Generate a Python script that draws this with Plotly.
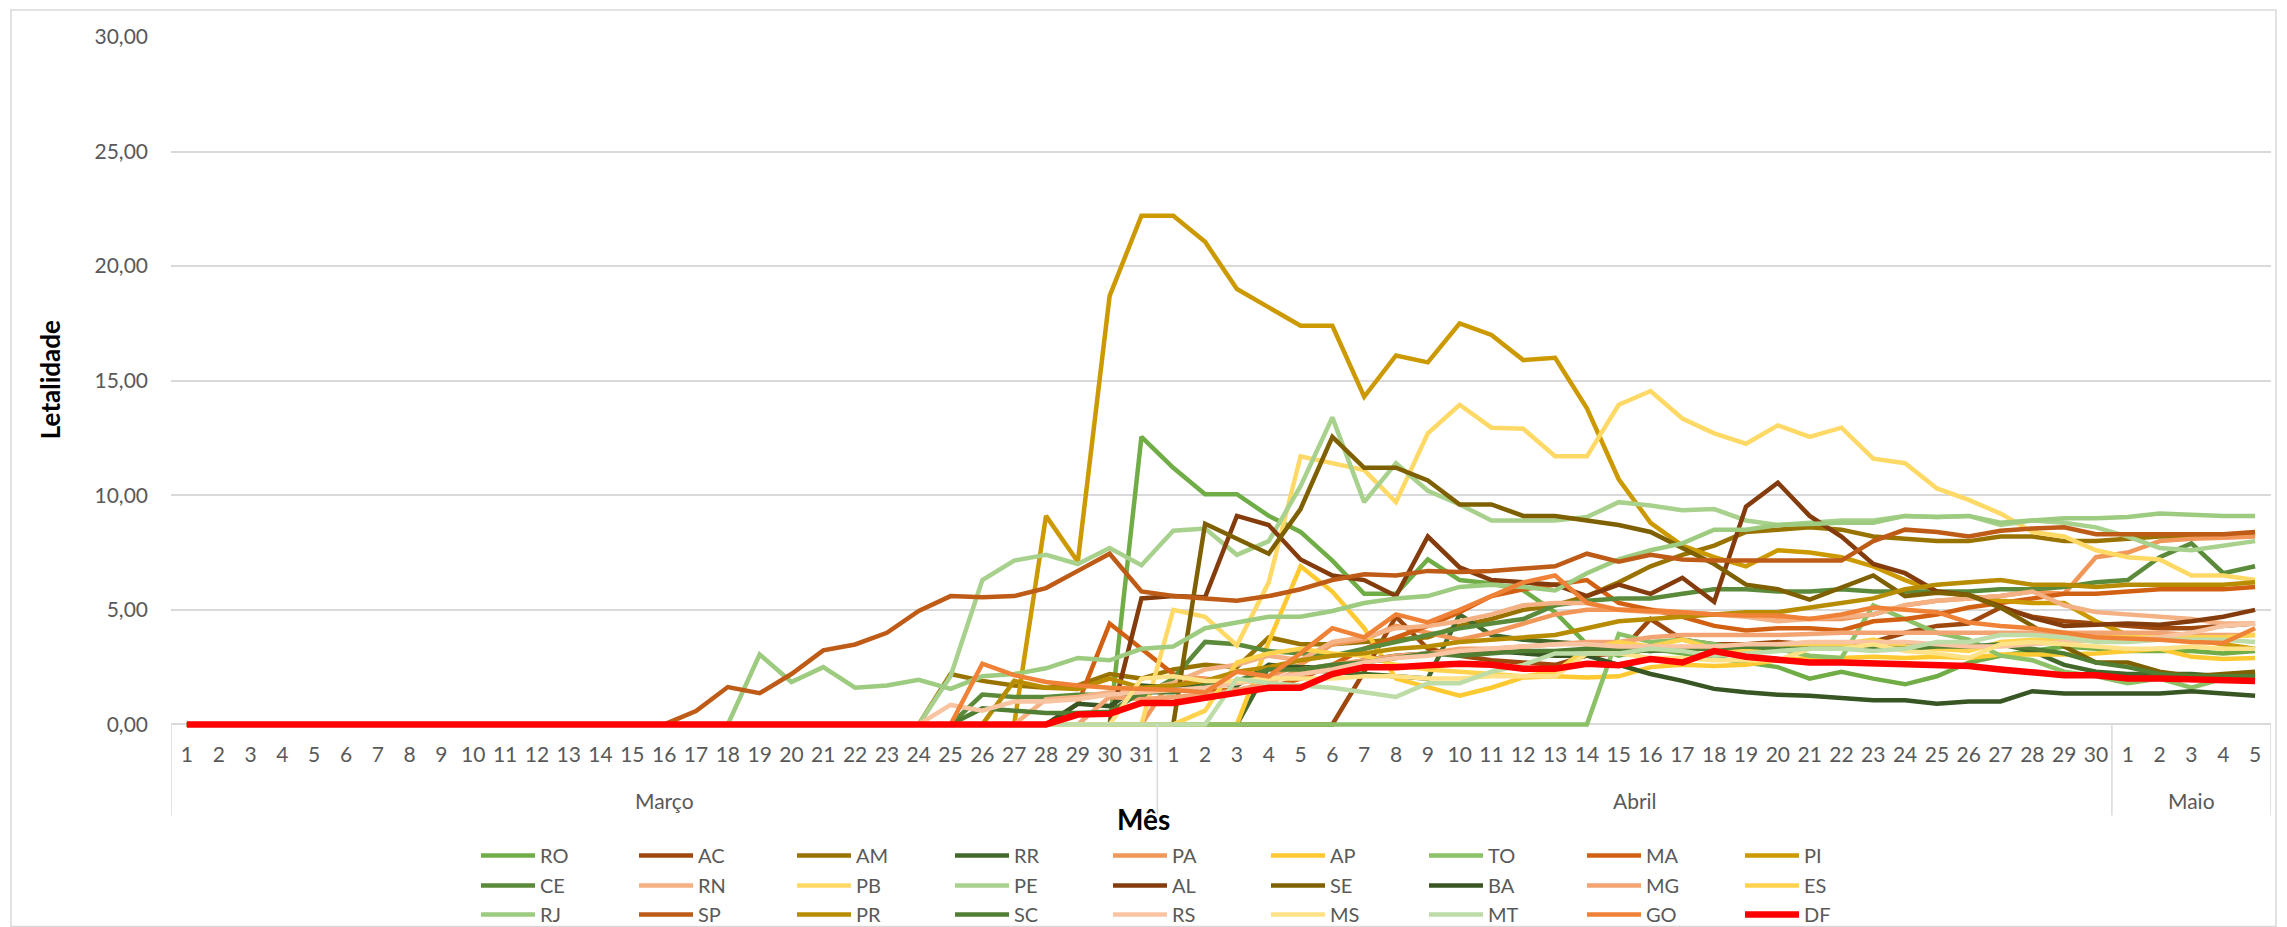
import plotly.graph_objects as go

# ---------------- categories ----------------
month_names = ["Março", "Abril", "Maio"]
month_days = [31, 30, 5]
cat_month, cat_day = [], []
for m, n in zip(month_names, month_days):
    for d in range(1, n + 1):
        cat_month.append(m)
        cat_day.append(str(d))
cat_key = [m + " " + d for m, d in zip(cat_month, cat_day)]

# ---------------- series values (Mar 1-31, Apr 1-30, May 1-5) ----------------
RO = [0, 0, 0, 0, 0, 0, 0, 0, 0, 0, 0, 0, 0, 0, 0, 0, 0, 0, 0, 0, 0, 0, 0, 0, 0, 0, 0, 0, 0, 0, 12.55,
      11.2, 10.05, 10.05, 9.1, 8.4, 7.15, 5.7, 5.7, 7.2, 6.3, 6.15, 5.85, 4.9, 3.5, 3.0, 3.3, 3.1, 2.9, 2.7, 2.5,
      2.0, 2.3, 2.0, 1.75, 2.1, 2.7, 3.0, 3.2, 3.4, 3.3,
      3.2, 3.2, 3.2, 3.1, 3.2]
AC = [0, 0, 0, 0, 0, 0, 0, 0, 0, 0, 0, 0, 0, 0, 0, 0, 0, 0, 0, 0, 0, 0, 0, 0, 0, 0, 0, 0, 0, 0, 0,
      0, 0, 0, 0, 0, 0, 2.3, 4.7, 3.3, 3.0, 2.8, 2.7, 2.6, 3.0, 3.1, 4.6, 3.7, 3.5, 3.5, 3.6,
      3.5, 3.3, 3.6, 4.0, 4.3, 4.4, 5.1, 4.7, 4.5, 4.4,
      4.3, 4.2, 4.2, 4.3, 4.4]
AM = [0, 0, 0, 0, 0, 0, 0, 0, 0, 0, 0, 0, 0, 0, 0, 0, 0, 0, 0, 0, 0, 0, 0, 0, 2.2, 1.9, 1.7, 1.6, 1.7, 2.2, 2.0,
      2.4, 2.6, 2.5, 3.8, 3.5, 3.5, 3.6, 3.7, 3.8, 4.3, 4.6, 5.0, 5.2, 5.6, 6.2, 6.9, 7.4, 7.8, 8.4, 8.5,
      8.6, 8.5, 8.2, 8.1, 8.0, 8.0, 8.2, 8.2, 8.0, 8.0,
      8.1, 8.2, 8.2, 8.2, 8.3]
RR = [0, 0, 0, 0, 0, 0, 0, 0, 0, 0, 0, 0, 0, 0, 0, 0, 0, 0, 0, 0, 0, 0, 0, 0, 0, 0, 0, 0, 0, 0, 0,
      0, 0, 0, 2.5, 2.4, 2.3, 2.2, 2.1, 2.0, 4.8, 3.9, 3.7, 3.6, 3.5, 3.3, 3.2, 3.3, 3.4, 3.4, 3.4,
      3.4, 3.4, 3.3, 3.4, 3.4, 3.3, 3.5, 3.2, 2.6, 2.3,
      2.2, 2.2, 2.2, 2.1, 2.1]
PA = [0, 0, 0, 0, 0, 0, 0, 0, 0, 0, 0, 0, 0, 0, 0, 0, 0, 0, 0, 0, 0, 0, 0, 0, 0, 0, 0, 0, 0, 0, 0,
      2.1, 2.0, 1.8, 2.1, 2.6, 3.5, 3.7, 4.3, 4.0, 3.7, 4.0, 4.4, 4.8, 5.0, 5.0, 5.0, 4.9, 4.8, 4.8, 4.7,
      4.6, 4.6, 4.8, 5.2, 5.4, 5.5, 5.6, 5.8, 5.7, 7.3,
      7.5, 8.0, 8.1, 8.15, 8.2]
AP = [0, 0, 0, 0, 0, 0, 0, 0, 0, 0, 0, 0, 0, 0, 0, 0, 0, 0, 0, 0, 0, 0, 0, 0, 0, 0, 0, 0, 0, 0, 0,
      0, 0, 0, 3.6, 6.9, 5.8, 4.2, 2.0, 1.6, 1.25, 1.6, 2.05, 2.1, 2.05, 2.1, 2.5, 2.6, 2.55, 2.6, 2.8,
      2.9, 2.9, 2.95, 2.9, 2.95, 2.9, 3.05, 3.05, 3.05, 3.1,
      3.2, 3.3, 2.95, 2.85, 2.9]
TO = [0, 0, 0, 0, 0, 0, 0, 0, 0, 0, 0, 0, 0, 0, 0, 0, 0, 0, 0, 0, 0, 0, 0, 0, 0, 0, 0, 0, 0, 0, 0,
      0, 0, 0, 0, 0, 0, 0, 0, 0, 0, 0, 0, 0, 0, 3.95, 3.6, 3.7, 3.5, 3.3, 3.3,
      3.0, 2.9, 5.2, 4.6, 4.0, 3.7, 3.0, 2.8, 2.3, 2.1,
      1.8, 2.0, 1.6, 2.0, 2.2]
MA = [0, 0, 0, 0, 0, 0, 0, 0, 0, 0, 0, 0, 0, 0, 0, 0, 0, 0, 0, 0, 0, 0, 0, 0, 0, 0, 0, 0, 0.9, 4.4, 3.3,
      2.2, 1.5, 1.5, 1.6, 2.0, 2.6, 3.3, 3.8, 4.3, 4.9, 5.6, 5.9, 6.1, 6.3, 5.3, 5.0, 4.7, 4.3, 4.1, 4.2,
      4.2, 4.1, 4.5, 4.6, 4.8, 5.1, 5.3, 5.5, 5.7, 5.7,
      5.8, 5.9, 5.9, 5.9, 6.0]
PI = [0, 0, 0, 0, 0, 0, 0, 0, 0, 0, 0, 0, 0, 0, 0, 0, 0, 0, 0, 0, 0, 0, 0, 0, 0, 0, 0, 9.1, 7.1, 18.7, 22.2,
      22.2, 21.06, 19.0, 18.2, 17.4, 17.4, 14.3, 16.1, 15.8, 17.5, 17.0, 15.9, 16.0, 13.8, 10.7, 8.8, 7.8, 7.3, 6.9, 7.6,
      7.5, 7.3, 6.9, 6.3, 5.8, 5.6, 5.4, 5.3, 5.3, 4.5,
      3.9, 3.8, 3.7, 3.5, 3.3]
CE = [0, 0, 0, 0, 0, 0, 0, 0, 0, 0, 0, 0, 0, 0, 0, 0, 0, 0, 0, 0, 0, 0, 0, 0, 0, 1.3, 1.2, 1.2, 1.3, 1.3, 1.2,
      2.0, 3.6, 3.5, 3.2, 3.1, 3.0, 3.3, 3.6, 3.9, 4.2, 4.4, 4.6, 5.2, 5.4, 5.5, 5.5, 5.7, 5.9, 5.9, 5.8,
      5.8, 5.9, 5.8, 5.8, 5.8, 5.8, 5.9, 5.9, 6.0, 6.2,
      6.3, 7.3, 7.9, 6.6, 6.9]
RN = [0, 0, 0, 0, 0, 0, 0, 0, 0, 0, 0, 0, 0, 0, 0, 0, 0, 0, 0, 0, 0, 0, 0, 0, 0, 0, 0, 1.1, 1.2, 1.4, 1.5,
      1.8, 2.4, 2.6, 3.0, 2.8, 3.6, 3.8, 4.2, 4.3, 4.5, 4.8, 5.2, 5.3, 5.3, 5.0, 4.9, 4.9, 4.8, 4.7, 4.5,
      4.6, 4.7, 4.8, 5.2, 5.4, 5.5, 5.6, 5.8, 5.2, 4.9,
      4.8, 4.7, 4.6, 4.4, 4.4]
PB = [0, 0, 0, 0, 0, 0, 0, 0, 0, 0, 0, 0, 0, 0, 0, 0, 0, 0, 0, 0, 0, 0, 0, 0, 0, 0, 0, 0, 0, 0, 0,
      5.0, 4.7, 3.45, 6.2, 11.7, 11.4, 11.1, 9.7, 12.7, 13.95, 12.95, 12.9, 11.7, 11.7, 13.95, 14.55, 13.35, 12.7, 12.25, 13.05,
      12.55, 12.95, 11.6, 11.4, 10.3, 9.8, 9.2, 8.4, 8.2, 7.6,
      7.3, 7.2, 6.5, 6.5, 6.3]
PE = [0, 0, 0, 0, 0, 0, 0, 0, 0, 0, 0, 0, 0, 0, 0, 0, 0, 0, 0, 0, 0, 0, 0, 0, 2.1, 6.3, 7.15, 7.4, 7.0, 7.7, 6.95,
      8.45, 8.55, 7.4, 8.0, 10.4, 13.4, 9.7, 11.4, 10.2, 9.6, 8.9, 8.9, 8.9, 9.05, 9.7, 9.55, 9.35, 9.4, 8.9, 8.7,
      8.8, 8.9, 8.9, 9.1, 9.05, 9.1, 8.7, 8.9, 8.8, 8.6,
      8.2, 7.7, 7.6, 7.8, 8.0]
AL = [0, 0, 0, 0, 0, 0, 0, 0, 0, 0, 0, 0, 0, 0, 0, 0, 0, 0, 0, 0, 0, 0, 0, 0, 0, 0, 0, 0, 0, 0, 5.5,
      5.6, 5.55, 9.1, 8.7, 7.2, 6.5, 6.3, 5.6, 8.2, 6.85, 6.3, 6.2, 6.1, 5.6, 6.1, 5.7, 6.4, 5.35, 9.5, 10.55,
      9.1, 8.2, 7.0, 6.6, 5.8, 5.65, 5.15, 4.65, 4.3, 4.35,
      4.4, 4.35, 4.5, 4.7, 5.0]
SE = [0, 0, 0, 0, 0, 0, 0, 0, 0, 0, 0, 0, 0, 0, 0, 0, 0, 0, 0, 0, 0, 0, 0, 0, 0, 0, 0, 0, 0, 0, 0,
      0, 8.76, 8.1, 7.45, 9.4, 12.55, 11.2, 11.2, 10.65, 9.6, 9.6, 9.1, 9.1, 8.9, 8.7, 8.4, 7.7, 7.0, 6.1, 5.9,
      5.45, 6.0, 6.5, 5.6, 5.75, 5.65, 5.1, 4.3, 3.4, 2.7,
      2.7, 2.3, 2.1, 2.2, 2.3]
BA = [0, 0, 0, 0, 0, 0, 0, 0, 0, 0, 0, 0, 0, 0, 0, 0, 0, 0, 0, 0, 0, 0, 0, 0, 0, 0, 0, 0, 0.9, 0.8, 1.7,
      1.6, 1.8, 1.7, 2.6, 2.5, 2.5, 2.8, 3.0, 3.1, 3.1, 3.2, 3.1, 3.0, 3.0, 2.6, 2.2, 1.9, 1.55, 1.4, 1.3,
      1.25, 1.15, 1.05, 1.05, 0.9, 1.0, 1.0, 1.45, 1.35, 1.35,
      1.35, 1.35, 1.45, 1.35, 1.25]
MG = [0, 0, 0, 0, 0, 0, 0, 0, 0, 0, 0, 0, 0, 0, 0, 0, 0, 0, 0, 0, 0, 0, 0, 0, 0, 0, 0, 0, 0, 1.2, 1.1,
      1.2, 1.3, 1.5, 1.8, 2.4, 2.6, 2.8, 3.0, 3.1, 3.3, 3.3, 3.4, 3.5, 3.6, 3.6, 3.8, 3.9, 3.9, 3.9, 3.9,
      3.95, 4.0, 4.0, 4.0, 4.0, 4.0, 4.0, 4.0, 4.0, 4.0,
      4.0, 4.0, 3.9, 3.9, 3.9]
ES = [0, 0, 0, 0, 0, 0, 0, 0, 0, 0, 0, 0, 0, 0, 0, 0, 0, 0, 0, 0, 0, 0, 0, 0, 0, 0, 0, 0, 0, 0, 0,
      0, 0.6, 2.7, 3.1, 3.3, 3.1, 3.0, 2.6, 2.4, 2.3, 2.2, 2.1, 2.3, 3.3, 3.6, 3.4, 3.7, 3.3, 3.2, 3.4,
      3.5, 3.5, 3.7, 3.4, 3.3, 3.2, 3.6, 3.7, 3.7, 3.8,
      3.8, 3.8, 3.8, 3.8, 3.9]
RJ = [0, 0, 0, 0, 0, 0, 0, 0, 0, 0, 0, 0, 0, 0, 0, 0, 0, 0, 3.05, 1.85, 2.5, 1.6, 1.7, 1.95, 1.55, 2.1, 2.2, 2.45, 2.9, 2.8, 3.3,
      3.4, 4.2, 4.45, 4.7, 4.7, 4.95, 5.3, 5.5, 5.6, 6.0, 6.1, 6.0, 5.85, 6.6, 7.2, 7.6, 7.9, 8.5, 8.5, 8.7,
      8.75, 8.8, 8.8, 9.1, 9.05, 9.1, 8.8, 8.9, 9.0, 9.0,
      9.05, 9.2, 9.15, 9.1, 9.1]
SP = [0, 0, 0, 0, 0, 0, 0, 0, 0, 0, 0, 0, 0, 0, 0, 0, 0.58, 1.63, 1.36, 2.2, 3.23, 3.49, 4.0, 4.95, 5.6, 5.55, 5.6, 5.95, 6.7, 7.45, 5.8,
      5.6, 5.5, 5.4, 5.6, 5.9, 6.3, 6.55, 6.5, 6.7, 6.65, 6.7, 6.8, 6.9, 7.45, 7.1, 7.4, 7.2, 7.15, 7.15, 7.15,
      7.15, 7.15, 8.0, 8.5, 8.4, 8.2, 8.45, 8.55, 8.6, 8.3,
      8.3, 8.3, 8.3, 8.3, 8.4]
PR = [0, 0, 0, 0, 0, 0, 0, 0, 0, 0, 0, 0, 0, 0, 0, 0, 0, 0, 0, 0, 0, 0, 0, 0, 0, 0, 1.9, 1.6, 1.55, 2.0, 1.6,
      1.7, 1.9, 2.3, 2.5, 2.8, 3.0, 3.1, 3.3, 3.4, 3.6, 3.7, 3.8, 3.9, 4.2, 4.5, 4.6, 4.7, 4.8, 4.9, 4.9,
      5.1, 5.3, 5.5, 5.9, 6.1, 6.2, 6.3, 6.1, 6.1, 6.0,
      6.1, 6.1, 6.1, 6.1, 6.2]
SC = [0, 0, 0, 0, 0, 0, 0, 0, 0, 0, 0, 0, 0, 0, 0, 0, 0, 0, 0, 0, 0, 0, 0, 0, 0, 0.7, 0.6, 0.5, 0.5, 0.55, 1.4,
      1.4, 1.7, 1.9, 2.4, 2.4, 2.6, 2.7, 2.9, 3.1, 3.0, 3.1, 3.2, 3.2, 3.3, 3.3, 3.2, 3.3, 3.3, 3.4, 3.3,
      3.3, 3.3, 3.3, 3.3, 3.4, 3.4, 3.5, 3.3, 3.1, 2.7,
      2.5, 2.2, 2.1, 2.1, 2.1]
RS = [0, 0, 0, 0, 0, 0, 0, 0, 0, 0, 0, 0, 0, 0, 0, 0, 0, 0, 0, 0, 0, 0, 0, 0, 0.85, 0.6, 1.0, 1.0, 1.1, 1.3, 1.4,
      1.5, 1.6, 1.8, 2.0, 2.2, 2.4, 2.7, 2.9, 3.0, 3.2, 3.3, 3.4, 3.5, 3.5, 3.4, 3.4, 3.4, 3.4, 3.5, 3.5,
      3.6, 3.6, 3.6, 3.6, 3.5, 3.4, 3.4, 3.5, 3.6, 3.7,
      3.7, 3.8, 4.0, 4.3, 4.4]
MS = [0, 0, 0, 0, 0, 0, 0, 0, 0, 0, 0, 0, 0, 0, 0, 0, 0, 0, 0, 0, 0, 0, 0, 0, 0, 0, 0, 0, 0, 0, 2.0,
      2.1, 1.9, 1.9, 2.0, 2.0, 2.0, 2.1, 2.1, 2.0, 2.0, 2.1, 2.1, 2.1, 3.1, 3.1, 2.9, 2.9, 2.8, 2.8, 2.8,
      3.3, 3.3, 3.5, 3.2, 3.1, 2.9, 3.5, 3.6, 3.5, 3.4,
      3.3, 3.3, 3.4, 3.3, 3.3]
MT = [0, 0, 0, 0, 0, 0, 0, 0, 0, 0, 0, 0, 0, 0, 0, 0, 0, 0, 0, 0, 0, 0, 0, 0, 0, 0, 0, 0, 0, 0, 0,
      0, 0, 2.0, 1.8, 1.7, 1.6, 1.4, 1.2, 1.8, 1.8, 2.3, 2.6, 3.1, 3.1, 3.1, 3.3, 3.2, 3.0, 3.1, 3.2,
      3.3, 3.3, 3.2, 3.3, 3.6, 3.6, 3.9, 3.9, 3.8, 3.6,
      3.6, 3.7, 3.7, 3.7, 3.6]
GO = [0, 0, 0, 0, 0, 0, 0, 0, 0, 0, 0, 0, 0, 0, 0, 0, 0, 0, 0, 0, 0, 0, 0, 0, 0, 2.65, 2.15, 1.85, 1.7, 1.6, 1.55,
      1.5, 1.4, 2.3, 2.1, 3.1, 4.2, 3.8, 4.8, 4.45, 5.0, 5.6, 6.2, 6.5, 5.3, 5.0, 4.95, 4.9, 4.8, 4.75, 4.75,
      4.6, 4.8, 5.1, 5.0, 4.9, 4.45, 4.3, 4.2, 4.0, 3.8,
      3.75, 3.7, 3.6, 3.55, 4.2]
DF = [0, 0, 0, 0, 0, 0, 0, 0, 0, 0, 0, 0, 0, 0, 0, 0, 0, 0, 0, 0, 0, 0, 0, 0, 0, 0, 0, 0, 0.43, 0.46, 0.94,
      0.94, 1.16, 1.38, 1.6, 1.6, 2.2, 2.5, 2.5, 2.58, 2.65, 2.6, 2.43, 2.43, 2.65, 2.58, 2.85, 2.7, 3.2, 2.95, 2.8,
      2.7, 2.7, 2.65, 2.65, 2.6, 2.55, 2.4, 2.3, 2.15, 2.15,
      2.0, 2.0, 1.95, 1.9, 1.9]

state_names = ["RO", "AC", "AM", "RR", "PA", "AP", "TO", "MA", "PI",
               "CE", "RN", "PB", "PE", "AL", "SE", "BA", "MG", "ES",
               "RJ", "SP", "PR", "SC", "RS", "MS", "MT", "GO", "DF"]
state_values = [RO, AC, AM, RR, PA, AP, TO, MA, PI,
                CE, RN, PB, PE, AL, SE, BA, MG, ES,
                RJ, SP, PR, SC, RS, MS, MT, GO, DF]
state_colors = ["#70AD47", "#9E480E", "#997300", "#43682B", "#F1975A", "#FFC931", "#8CC168", "#D26012", "#CC9A00",
                "#5A8A3A", "#F4B183", "#FFD966", "#A9D18E", "#843C0C", "#7F6000", "#375623", "#F3A473", "#FFD34D",
                "#9DCB80", "#BE5B17", "#B88C00", "#507E32", "#F8C4A1", "#FFE287", "#BDDCA8", "#EF8236", "#FF0000"]

for v in state_values:
    assert len(v) == 66, len(v)

FONT = "Lato, 'Open Sans', sans-serif"
GRAY = "#595959"
GRID = "#D9D9D9"

# pixel geometry helpers
W, H = 2287, 927
PL, PR_, PT = 171, 2271, 37
YMIN, YMAX = -0.2, 30
PXU = (724 - 37) / 30.0
PB_ = 37 + (YMAX - YMIN) * PXU


def xp(px):
    return (px - PL) / (PR_ - PL)


def yp(py):
    return (PB_ - py) / (PB_ - PT)


fig = go.Figure()
legend_ids = ["legend", "legend2", "legend3"]
for k, (nm, vals, col) in enumerate(zip(state_names, state_values, state_colors)):
    fig.add_trace(go.Scatter(
        x=cat_key, y=vals, mode="lines", name=nm,
        line=dict(color=col, width=6.5 if nm == "DF" else 4.5),
        legend=legend_ids[k // 9], hoverinfo="skip"))

leg_common = dict(orientation="h", xanchor="left", yanchor="middle",
                  entrywidth=89, entrywidthmode="pixels", itemwidth=54,
                  font=dict(family=FONT, size=20, color=GRAY),
                  bgcolor="rgba(0,0,0,0)", traceorder="normal")
row_y = [855, 885, 914]
legends = {}
for lid, ry in zip(legend_ids, row_y):
    legends[lid] = dict(leg_common, x=xp(476), y=yp(ry))

# month group labels and dividers of the two-level category axis
group_start = [cat_month.index(m) for m in month_names]
group_end = [s + n - 1 for s, n in zip(group_start, month_days)]
annotations = []
for m, s, e in zip(month_names, group_start, group_end):
    annotations.append(dict(text=m, x=(s + e) / 2, y=yp(800), xref="x", yref="paper",
                            showarrow=False, xanchor="center", yanchor="middle",
                            font=dict(family=FONT, size=21, color=GRAY)))
shapes = []
for b in [group_start[0] - 0.5] + [e + 0.5 for e in group_end]:
    shapes.append(dict(type="line", xref="x", yref="paper", x0=b, x1=b,
                       y0=yp(815), y1=yp(724), line=dict(color=GRID, width=1.5)))
shapes.append(dict(type="rect", xref="paper", yref="paper",
                   x0=xp(11), x1=xp(2276), y0=yp(926), y1=yp(10),
                   line=dict(color=GRID, width=1.5), layer="below"))

annotations += [
    dict(text="<b>Letalidade</b>", x=xp(50), y=yp(380), xref="paper", yref="paper",
         textangle=-90, showarrow=False, xanchor="center", yanchor="middle",
         font=dict(family=FONT, size=26, color="black")),
    dict(text="<b>Mês</b>", x=xp(1143), y=yp(819), xref="paper", yref="paper",
         showarrow=False, xanchor="center", yanchor="middle",
         font=dict(family=FONT, size=28, color="black")),
]

fig.update_layout(
    width=W, height=H,
    margin=dict(l=PL, r=W - PR_, t=PT, b=H - PB_, pad=0, autoexpand=False),
    paper_bgcolor="white", plot_bgcolor="white",
    separators=",.",
    font=dict(family=FONT, color=GRAY),
    showlegend=True,
    **legends,
    xaxis=dict(type="category", categoryorder="array", categoryarray=cat_key,
               tickmode="array", tickvals=cat_key, ticktext=cat_day,
               showgrid=False, showline=False, ticks="", tickangle=0,
               tickfont=dict(family=FONT, size=21, color=GRAY),
               ticklabelstandoff=11, range=[-0.5, 65.5], zeroline=False),
    yaxis=dict(range=[YMIN, YMAX], dtick=5, tick0=0, tickformat=".2f",
               showgrid=True, gridcolor=GRID, gridwidth=1.5,
               zeroline=False, showline=False, ticks="",
               tickfont=dict(family=FONT, size=21, color=GRAY),
               ticklabelstandoff=22),
    annotations=annotations,
    shapes=shapes,
)

fig.write_html("out.html", config={"displayModeBar": False},
               post_script="document.body.style.margin='0';document.body.style.overflow='hidden';")
